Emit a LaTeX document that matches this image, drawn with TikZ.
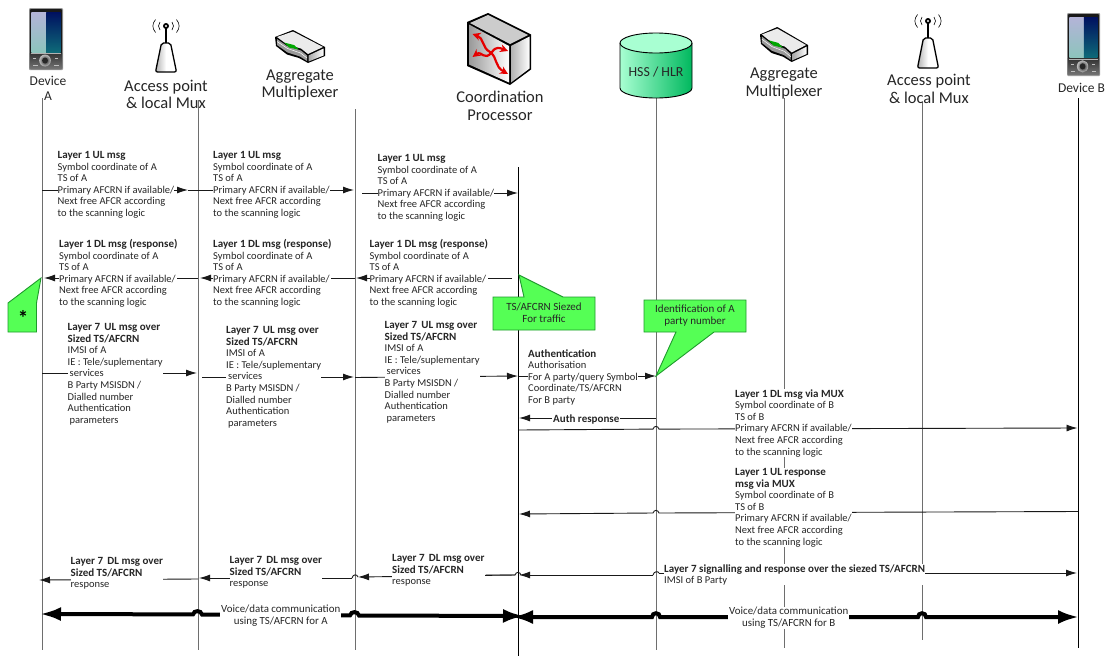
\documentclass[tikz,border=0pt]{standalone}
\usepackage{fontspec}
\setmainfont{Carlito}
\usetikzlibrary{arrows.meta,calc,shadings}
\definecolor{cgreen}{HTML}{55FF55}
\definecolor{cgreenb}{HTML}{1E9A2C}
\definecolor{lifegray}{HTML}{6E6E6E}
\definecolor{mintA}{HTML}{A8FFD2}
\definecolor{mintB}{HTML}{00B85E}
\definecolor{scrA}{HTML}{B4B4D8}
\definecolor{scrB}{HTML}{8CC4BC}
\definecolor{scrC}{HTML}{001060}
\definecolor{scrD}{HTML}{0E6A78}
\newcommand{\smalltxt}{\fontsize{10.5}{11.6}\selectfont}
\newcommand{\calltxt}{\fontsize{11}{12}\selectfont}
\newcommand{\bigtxt}{\fontsize{16.5}{17.5}\selectfont}
\newcommand{\hd}[1]{{\fontsize{11}{11.6}\selectfont\bfseries #1}}
\newcommand{\ULBlock}{\hd{Layer 1 UL msg}\\Symbol coordinate of A\\TS of A\\Primary AFCRN if available/\\Next free AFCR according\\to the scanning logic}
\newcommand{\DLBlock}{\hd{Layer 1 DL msg (response)}\\Symbol coordinate of A\\TS of A\\Primary AFCRN if available/\\Next free AFCR according\\to the scanning logic}
\newcommand{\LSBlock}{\hd{Layer 7\, UL msg over}\\\hd{Sized TS/AFCRN}\\IMSI of A\\IE : Tele/suplementary\\\hspace*{2pt}services\\B Party MSISDN /\\Dialled number\\Authentication\\\hspace*{2pt}parameters}
\newcommand{\LDBlock}{\hd{Layer 7\, DL msg over}\\\hd{Sized TS/AFCRN}\\response}
\tikzset{
  x=1pt,y=-1pt,
  lifeline/.style={draw=lifegray,line width=1pt},
  lifedark/.style={draw=black,line width=0.9pt},
  msgarrow/.style={draw=black!90,line width=0.9pt,-{Latex[length=11pt,width=7pt]}},
  msgplain/.style={draw=black!90,line width=0.9pt},
  bigboth/.style={draw=black,line width=4pt,{Latex[length=21pt,width=14pt]}-{Latex[length=21pt,width=14pt]}},
  msgtext/.style={anchor=north west,align=left,fill=white,inner sep=0pt,font=\smalltxt,text=black!85,yshift=-2.2pt},
  headtext/.style={align=center,inner sep=0pt,font=\bigtxt,text=black!85},
  callout/.style={draw=cgreenb,fill=cgreen,line width=0.9pt,line join=miter},
  calltext/.style={align=center,inner sep=0pt,font=\calltxt,text=black!85},
}
% phone icon: #1 left, #2 top, #3 width, #4 height
\newcommand{\phoneicon}[4]{
  \begin{scope}[shift={(#1,#2)},xscale=#3/35,yscale=#4/62]
    \fill[black!40,rounded corners=1pt] (0,0) rectangle (35,62);
    \fill[black!90,rounded corners=1pt] (1,1) rectangle (34,61);
    \shade[top color=scrA,bottom color=scrB] (2.5,4) rectangle (18,44);
    \shade[top color=scrC,bottom color=scrD] (18,4) rectangle (32.5,44);
    \shade[top color=black!80,bottom color=black!55] (1,45) rectangle (34,60.5);
    \draw[black!30,line width=.3pt] (2,45) -- (33,45);
    \shade[inner color=black!90,outer color=black!25] (16.5,52.5) circle (6);
    \fill[black!85] (16.5,52.5) circle (3);
    \fill[white!75!black] (4,50) rectangle (7,51);
    \fill[white!75!black] (27,50) rectangle (30,51);
    \fill[white!75!black] (4,57) rectangle (9,58);
    \fill[white!75!black] (26,57) rectangle (31,58);
  \end{scope}}
% antenna icon: #1 centre x, #2 dot y, #3 bottom y
\newcommand{\antennaicon}[3]{
  \begin{scope}[shift={(#1,#2)}]
    \pgfmathsetmacro{\bot}{#3-#2}
    \draw[black,line width=1.6pt] (0,0) -- (0,17);
    \fill[black] (0,0) circle (3);
    \fill[white] (0,0) circle (1.1);
    \draw[black,line width=.6pt] (-6,-4) .. controls (-8,-1.5) and (-8,1.5) .. (-6,4);
    \draw[black,line width=.6pt] (6,-4) .. controls (8,-1.5) and (8,1.5) .. (6,4);
    \draw[black,line width=.6pt] (-10.5,-6.5) .. controls (-14,-2) and (-14,2) .. (-10.5,6.5);
    \draw[black,line width=.6pt] (10.5,-6.5) .. controls (14,-2) and (14,2) .. (10.5,6.5);
    \shade[left color=black!30,right color=white,middle color=white,draw=black,line width=1.3pt,rounded corners=2pt]
      (-4.5,17) -- (4.5,17) -- (10.5,\bot) -- (-10.5,\bot) -- cycle;
  \end{scope}}
% mux icon: #1 left, #2 top, #3 width, #4 height (design box 50x33)
\newcommand{\muxicon}[4]{
  \begin{scope}[shift={(#1,#2)},xscale=#3/50,yscale=#4/33]
    \fill[black] (0,7) -- (18,0) -- (50,17) -- (50,26) -- (33,33) -- (24,28) -- (12,24.5) -- (1,16) -- cycle;
    \fill[white!92!black] (2,7) -- (18,1.5) -- (48,17) -- (33,24) -- (26,18.5) -- (12,14.5) -- cycle;
    \shade[left color=black!35,right color=white] (33.5,25.5) -- (48.5,18.5) -- (48.5,25.5) -- (33.5,31.5) -- cycle;
    \fill[black!40] (2,9) -- (12,16) -- (26,20.5) -- (32,25.5) -- (32,31) -- (25,26.5) -- (12.5,22.5) -- (2,15) -- cycle;
    \fill[green!65!black] (9,12.5) -- (19,15) -- (24,19.5) -- (14,17.5) -- cycle;
    \draw[white,line width=.5pt] (2,11.5) -- (12.5,18.5) -- (25.5,23) -- (32,28);
  \end{scope}}
\begin{document}
\begin{tikzpicture}[x=1pt,y=-1pt]
\useasboundingbox (0,0) rectangle (1106,656);
\fill[white] (0,0) rectangle (1106,656);

% ---- lifeline end points
\coordinate (At) at (42,98);   \coordinate (Ab) at (42,650);
\coordinate (Pt) at (198,100); \coordinate (Pb) at (198,650);
\coordinate (Mt) at (355,109); \coordinate (Mb) at (355,650);
\coordinate (Ct) at (518.5,167); \coordinate (Cb) at (518.5,656);
\coordinate (Ht) at (656,98);  \coordinate (Hb) at (656,650);
\coordinate (Nt) at (784,98);  \coordinate (Nb) at (784,648);
\coordinate (Qt) at (922,102); \coordinate (Qb) at (922,640);
\coordinate (Bt) at (1078,98); \coordinate (Bb) at (1078,648);
\draw[lifeline] (At) -- (Ab);
\draw[lifeline] (Pt) -- (Pb);
\draw[lifeline] (Mt) -- (Mb);
\draw[lifedark] (Ct) -- (Cb);
\draw[lifeline] (Ht) -- (Hb);
\draw[lifeline] (Nt) -- (Nb);
\draw[lifeline] (Qt) -- (Qb);
\draw[lifedark] (Bt) -- (Bb);

% ---- messages: end points
\coordinate (r1a) at (42,190);   \coordinate (r1b) at (188,190);  \coordinate (r1c) at (198,190);
\coordinate (r1d) at (354,190);  \coordinate (r1e) at (362,193);  \coordinate (r1f) at (518,193);
\coordinate (r2a) at (512,278);  \coordinate (r2b) at (356,278);  \coordinate (r2c) at (200,278); \coordinate (r2d) at (44,278);
\coordinate (r2m) at (355,278);  \coordinate (r2p) at (198,278);
\coordinate (r3a) at (42,373);   \coordinate (r3b) at (197,373);
\coordinate (r3c) at (202,377);  \coordinate (r3d) at (354,377);
\coordinate (r3e) at (355,377.5);\coordinate (r3f) at (518,376);
\coordinate (r3g) at (518.5,376);\coordinate (r3h) at (656,376);
\coordinate (auA) at (656,418);  \coordinate (auB) at (519,418);
\coordinate (ldA) at (518.5,430);\coordinate (ldB) at (1077.5,428);
\coordinate (luA) at (1078,511.5);\coordinate (luB) at (519,514);
\coordinate (d3a) at (515,575);  \coordinate (d3b) at (358,577);
\coordinate (d2a) at (352,578);  \coordinate (d2b) at (199,578);
\coordinate (d1a) at (198,579);  \coordinate (d1b) at (39,580);
\coordinate (sgC) at (653,575);  \coordinate (sgL) at (519,575);
\coordinate (sgD) at (659,573);  \coordinate (sgR) at (1077,573);
\coordinate (thA) at (40,614);   \coordinate (thB) at (524,616);
\coordinate (thC) at (512,617);  \coordinate (thD) at (1079,617);

\draw[msgarrow] (r1a) -- (r1b);
\draw[msgplain] (r1b) -- (r1c);
\draw[msgarrow] (r1c) -- (r1d);
\draw[msgarrow] (r1e) -- (r1f);
\draw[msgarrow] (r2a) -- (r2b);
\draw[msgarrow] (r2m) -- (r2c);
\draw[msgarrow] (r2p) -- (r2d);
\draw[msgarrow] (r3a) -- (r3b);
\draw[msgarrow] (r3c) -- (r3d);
\draw[msgarrow] (r3e) -- (r3f);
\draw[msgarrow] (r3g) -- (r3h);
\draw[msgarrow] (auA) -- (auB);
% long messages with jumps over the HSS line
\draw[msgarrow] (ldA) -- (653,429.1) .. controls (654,425.5) and (658,425.5) .. (659,429.1) -- (ldB);
\draw[msgarrow] (luA) -- (659,513) .. controls (658,509.5) and (654,509.5) .. (653,513) -- (luB);
\draw[msgplain] (486,575) -- (515,575) .. controls (516,571.5) and (520,571.5) .. (521,575);
\draw[msgarrow] (d3a) -- (d3b);
\draw[msgplain] (d2a) .. controls (353,574) and (357,574) .. (358,577);
\draw[msgarrow] (d2a) -- (d2b);
\draw[msgarrow] (d1a) -- (d1b);
\draw[msgplain] (sgC) .. controls (654,571) and (658,571) .. (659,573);
\draw[msgarrow] (sgC) -- (sgL);
\draw[msgarrow] (sgD) -- (sgR);

% thick arrows
\draw[bigboth] (thB) -- (359,615.5) .. controls (358,611) and (351,611) .. (350,615.4) -- (202,614.5) .. controls (201,610) and (194,610) .. (193,614.4) -- (thA);
\draw[bigboth] (thC) -- (652,617) .. controls (652,612) and (660,612) .. (660,617) -- (918,617) .. controls (918,612) and (926,612) .. (926,617) -- (thD);

% ---- message texts
\node[msgtext] (tu1) at (57.5,149) {\ULBlock};
\node[msgtext] (tu2) at (213,149) {\ULBlock};
\node[msgtext] (tu3) at (377.5,152) {\ULBlock};
\node[msgtext] (td1) at (59,237) {\DLBlock};
\node[msgtext] (td2) at (213,237) {\DLBlock};
\node[msgtext] (td3) at (369.5,237) {\DLBlock};
\node[msgtext] (tl1) at (67.5,321) {\LSBlock};
\node[msgtext] (tl2) at (226,324) {\LSBlock};
\node[msgtext] (tl3) at (384.5,319) {\LSBlock};
\node[msgtext] (tau) at (528,347) {\hd{Authentication}\\Authorisation\\For A party/query Symbol\\Coordinate/TS/AFCRN\\For B party};
\node[msgtext,inner xsep=1pt] (tar) at (552,412) {\hd{Auth response}};
\node[msgtext] (tb1) at (735,387) {\hd{Layer 1 DL msg via MUX}\\Symbol coordinate of B\\TS of B\\Primary AFCRN if available/\\Next free AFCR according\\to the scanning logic};
\node[msgtext] (tb2) at (735,466) {\hd{Layer 1 UL response}\\\hd{msg via MUX}\\Symbol coordinate of B\\TS of B\\Primary AFCRN if available/\\Next free AFCR according\\to the scanning logic};
\node[msgtext] (tm1) at (70.5,555) {\LDBlock};
\node[msgtext] (tm2) at (229.5,554) {\LDBlock};
\node[msgtext] (tm3) at (392,552) {\LDBlock};
\node[msgtext] (tsg) at (664,562) {\hd{Layer 7 signalling and response over the siezed TS/AFCRN}\\IMSI of B Party};
\node[msgtext,align=center,inner xsep=1pt,font=\fontsize{10.9}{11.8}\selectfont] (tv1) at (220,603) {Voice/data communication\\using TS/AFCRN for A};
\node[msgtext,align=center,inner xsep=1pt,font=\fontsize{10.9}{11.8}\selectfont] (tv2) at (728,605) {Voice/data communication\\using TS/AFCRN for B};

% ---- callouts
\draw[callout] (8,303) -- (41,278) -- (36.5,303) -- (36.5,332) -- (8,332) -- cycle;
\node[inner sep=0pt,font=\fontsize{21}{21}\selectfont\bfseries] (star) at (23,318) {*};
\draw[callout] (493,297) -- (524,297) -- (519,275) -- (563,297) -- (595,297) -- (595,330) -- (493,330) -- cycle;
\node[calltext] (csz) at (544,313) {TS/AFCRN Siezed\\For traffic};
\draw[callout] (644,300) -- (746,300) -- (746,332) -- (714,332) -- (656,376) -- (676,332) -- (644,332) -- cycle;
\node[calltext] (cid) at (695,316) {Identification of A\\party number};

% ---- headers
\phoneicon{29}{8}{34}{62}
\phoneicon{1067}{13}{33}{63}
\antennaicon{166}{26}{72}
\antennaicon{928}{21}{68}
\muxicon{275}{30}{50}{33}
\muxicon{760}{27}{48}{35}

% coordination processor
\fill[black,line join=round] (467,22) -- (488,13) -- (531,34.5) -- (531,69.5) -- (510,85) -- (467,66) -- cycle;
\shade[left color=black!40,right color=white] (469,24.5) -- (509,46) -- (509,82.5) -- (469,64.5) -- cycle;
\shade[left color=black!30,right color=white] (511,46) -- (529.5,36.5) -- (529.5,68.5) -- (511,82.5) -- cycle;
\fill[white!80!black] (470,23) -- (488,15) -- (528,35) -- (510,44) -- cycle;
\begin{scope}[draw=red!90!black,line width=2.2pt,{Stealth[length=8pt,width=8pt]}-{Stealth[length=8pt,width=8pt]}]
\draw (472.5,34) .. controls (484,38) and (482,48) .. (490,52) .. controls (498,58) and (494,66) .. (508,74);
\draw (472.5,57) .. controls (482,50) and (484,62) .. (492,52) .. controls (496,46) and (500,48) .. (508,51);
\end{scope}

% cylinder
\shade[left color=mintA,right color=mintB] (620,43) -- (620,88) arc[start angle=180,end angle=0,x radius=36,y radius=10] -- (692,43) -- cycle;
\fill[mintA] (656,43) ellipse[x radius=36,y radius=10];
\draw[black,line width=.9pt] (620,43) -- (620,88) arc[start angle=180,end angle=0,x radius=36,y radius=10] -- (692,43);
\draw[black,line width=.9pt] (656,43) ellipse[x radius=36,y radius=10];

\node[headtext,font=\fontsize{13.5}{15}\selectfont] (devA) at (48,88.5) {Device\\A};
\node[headtext] (apA) at (166,94.5) {Access point\\\& local Mux};
\node[headtext] (muA) at (300,85) {Aggregate\\Multiplexer};
\node[headtext] (cpr) at (500,106) {Coordination\\Processor};
\node[headtext,font=\fontsize{13.8}{15}\selectfont] (hss) at (656,72) {HSS / HLR};
\node[headtext] (muB) at (784,83.5) {Aggregate\\Multiplexer};
\node[headtext] (apB) at (929,89) {Access point\\\& local Mux};
\node[headtext,font=\fontsize{13.5}{15}\selectfont] (devB) at (1081.5,88) {Device B};
\end{tikzpicture}
\end{document}
